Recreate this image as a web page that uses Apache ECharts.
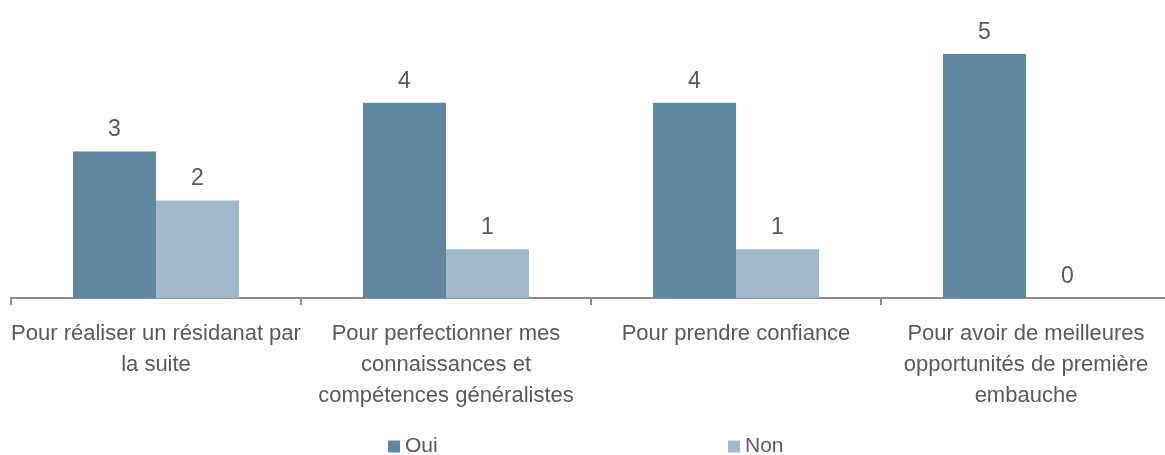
<!DOCTYPE html>
<html><head><meta charset="utf-8">
<script src="https://cdn.jsdelivr.net/npm/echarts@6/dist/echarts.min.js"></script>
<style>html,body{margin:0;padding:0;background:#fff}#c{width:1165px;height:455px}</style>
</head><body><div id="c"></div>
<script>
const categories = [
  "Pour réaliser un résidanat par\nla suite",
  "Pour perfectionner mes\nconnaissances et\ncompétences généralistes",
  "Pour prendre confiance",
  "Pour avoir de meilleures\nopportunités de première\nembauche"
];
const seriesNames = ["Oui", "Non"];
const oui = [3, 4, 4, 5];
const non = [2, 1, 1, 0];

const font = "'Liberation Sans Narrow', 'Arial Narrow', 'Liberation Sans', Arial, sans-serif";
const txt = '#595959';
const legendCommon = {
  top: 436, padding: 0, itemWidth: 12, itemHeight: 12, itemGap: 0, icon: 'rect',
  textStyle: { fontFamily: font, fontSize: 21, color: txt }
};
const chart = echarts.init(document.getElementById('c'));
chart.setOption({
  animation: false,
  textStyle: { fontFamily: font },
  grid: { left: 11, width: 1160, top: 54, bottom: 157, containLabel: false, outerBoundsMode: 'none' },
  legend: [
    Object.assign({ data: [seriesNames[0]], left: 388 }, legendCommon),
    Object.assign({ data: [seriesNames[1]], left: 728 }, legendCommon)
  ],
  xAxis: {
    type: 'category', data: categories,
    axisLine: { lineStyle: { color: '#8c8c8c', width: 2 } },
    axisTick: { show: true, length: 7, lineStyle: { color: '#8c8c8c', width: 2 } },
    axisLabel: { interval: 0, margin: 20, fontSize: 22, lineHeight: 31, color: txt, fontFamily: font }
  },
  yAxis: { type: 'value', min: 0, max: 5, show: false, splitLine: { show: false } },
  series: [
    { name: seriesNames[0], type: 'bar', data: oui, barWidth: 83, barGap: '0%',
      itemStyle: { color: '#5f87a0' },
      label: { show: true, position: 'top', distance: 10, fontSize: 23, color: txt, fontFamily: font } },
    { name: seriesNames[1], type: 'bar', data: non, barWidth: 83, barGap: '0%',
      itemStyle: { color: '#a2b9c9' },
      label: { show: true, position: 'top', distance: 10, fontSize: 23, color: txt, fontFamily: font } }
  ]
});
</script></body></html>
